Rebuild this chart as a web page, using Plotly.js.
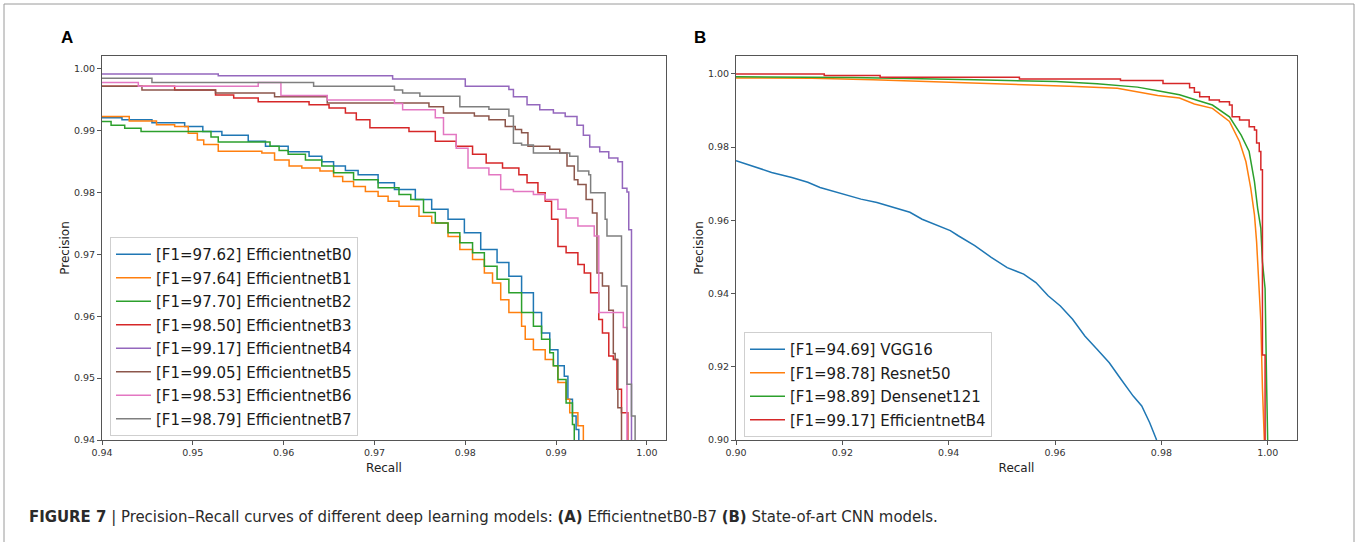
<!DOCTYPE html>
<html><head><meta charset="utf-8">
<script src="https://cdn.plot.ly/plotly-3.0.1.min.js"></script>
<style>html,body{margin:0;padding:0;background:#fff;}</style>
</head><body>
<div id="chart" style="width:1358px;height:542px;"></div>
<script>
// ---------- Panel A data (EfficientnetB0-B7), step levels: precision level starting at recall ----------
const recallB0 = [0.94,0.9422,0.9455,0.9491,0.9511,0.9532,0.9561,0.9580,0.9605,0.9628,0.9642,0.9655,0.9668,0.9682,0.9704,0.9722,0.9745,0.9763,0.9781,0.9799,0.9817,0.9835,0.9848,0.9862,0.9875,0.9884,0.9893,0.9902,0.9909,0.9913,0.9918,0.9922,0.9925];
const precB0   = [0.9921,0.9918,0.9913,0.9907,0.9899,0.9893,0.9883,0.9875,0.9866,0.9859,0.9850,0.9843,0.9836,0.9829,0.9816,0.9805,0.9789,0.9773,0.9757,0.9735,0.9708,0.9687,0.9665,0.9638,0.9606,0.9573,0.9546,0.9520,0.9503,0.9466,0.9439,0.9417,0.9300];

const recallB1 = [0.94,0.9430,0.9460,0.9480,0.9495,0.9505,0.9512,0.9528,0.9576,0.9590,0.9606,0.9620,0.9640,0.9655,0.9665,0.9677,0.9690,0.9704,0.9715,0.9727,0.9749,0.9763,0.9781,0.9794,0.9808,0.9821,0.9830,0.9839,0.9848,0.9862,0.9866,0.9875,0.9888,0.9897,0.9902,0.9911,0.9915,0.9924,0.9930];
const precB1   = [0.9923,0.9916,0.9910,0.9907,0.9896,0.9885,0.9878,0.9867,0.9864,0.9853,0.9843,0.9840,0.9835,0.9826,0.9818,0.9810,0.9802,0.9794,0.9786,0.9778,0.9762,0.9751,0.9729,0.9708,0.9692,0.9670,0.9654,0.9627,0.9606,0.9584,0.9563,0.9546,0.9530,0.9520,0.9493,0.9466,0.9444,0.9423,0.9300];

const recallB2 = [0.94,0.9410,0.9425,0.9443,0.9520,0.9528,0.9585,0.9595,0.9605,0.9624,0.9642,0.9655,0.9677,0.9704,0.9727,0.9740,0.9754,0.9767,0.9781,0.9794,0.9808,0.9821,0.9835,0.9848,0.9862,0.9875,0.9884,0.9893,0.9897,0.9902,0.9911,0.9918,0.9920];
const precB2   = [0.9915,0.9909,0.9904,0.9899,0.9890,0.9882,0.9875,0.9868,0.9862,0.9853,0.9843,0.9832,0.9821,0.9808,0.9797,0.9789,0.9768,0.9751,0.9735,0.9719,0.9703,0.9681,0.9660,0.9638,0.9606,0.9584,0.9563,0.9541,0.9520,0.9498,0.9460,0.9425,0.9300];

const recallB3 = [0.94,0.948,0.9525,0.9545,0.9572,0.9628,0.965,0.9668,0.968,0.9695,0.9738,0.9767,0.979,0.9808,0.9823,0.9841,0.9859,0.9868,0.988,0.9888,0.9895,0.9902,0.9911,0.9924,0.9931,0.9938,0.9947,0.9951,0.9958,0.9963,0.9967,0.9972,0.9979];
const precB3   = [0.9972,0.9966,0.9958,0.9953,0.9947,0.9942,0.9937,0.9929,0.9918,0.9905,0.9899,0.9883,0.9875,0.9862,0.9848,0.9840,0.9829,0.9816,0.9800,0.9786,0.9757,0.9713,0.9703,0.9684,0.9670,0.9638,0.9595,0.9573,0.9536,0.9530,0.9482,0.9444,0.9300];

const recallB4 = [0.94,0.9528,0.9720,0.9800,0.9848,0.9853,0.9868,0.9882,0.9897,0.9910,0.9923,0.9930,0.9937,0.9948,0.9958,0.9968,0.9973,0.9978,0.9980,0.9983];
const precB4   = [0.9992,0.9989,0.9984,0.9972,0.9967,0.9955,0.9942,0.9934,0.9929,0.9923,0.9909,0.9893,0.9874,0.9866,0.9856,0.9850,0.9807,0.9801,0.9740,0.9300];

const recallB5 = [0.94,0.9444,0.9525,0.9590,0.9648,0.9760,0.9776,0.9810,0.9826,0.9844,0.9855,0.9862,0.9869,0.9893,0.9904,0.9912,0.9920,0.9924,0.9933,0.9940,0.9945,0.9951,0.9958,0.9963,0.9965,0.9968,0.9972];
const precB5   = [0.9972,0.9966,0.9961,0.9955,0.9945,0.9939,0.9929,0.9924,0.9918,0.9907,0.9902,0.9897,0.9875,0.9870,0.9864,0.9843,0.9821,0.9813,0.9789,0.9767,0.9670,0.9649,0.9610,0.9540,0.9530,0.9452,0.9300];

const recallB6 = [0.94,0.944,0.9572,0.9597,0.9648,0.9722,0.9731,0.9767,0.9776,0.9790,0.9803,0.9826,0.9839,0.9853,0.9875,0.9888,0.9902,0.9911,0.9924,0.9942,0.9947,0.9974,0.9978];
const precB6   = [0.9978,0.9972,0.9978,0.9957,0.9950,0.9944,0.9934,0.9921,0.9894,0.9872,0.9840,0.9829,0.9805,0.9802,0.9797,0.9789,0.9773,0.9759,0.9746,0.9730,0.9606,0.9582,0.9300];

const recallB7 = [0.94,0.9455,0.9633,0.9722,0.9731,0.9750,0.9794,0.9826,0.9848,0.9853,0.9862,0.9875,0.9915,0.9924,0.9936,0.9938,0.9954,0.9956,0.9972,0.9978,0.9983,0.9987];
const precB7   = [0.9985,0.9978,0.9972,0.9966,0.9961,0.9956,0.9939,0.9935,0.9924,0.9880,0.9877,0.9864,0.9859,0.9835,0.9829,0.9800,0.9757,0.9730,0.9649,0.9490,0.9439,0.9300];

const namesA = ['[F1=97.62] EfficientnetB0','[F1=97.64] EfficientnetB1','[F1=97.70] EfficientnetB2','[F1=98.50] EfficientnetB3','[F1=99.17] EfficientnetB4','[F1=99.05] EfficientnetB5','[F1=98.53] EfficientnetB6','[F1=98.79] EfficientnetB7'];

// ---------- Panel B data (state-of-art CNNs) ----------
const recallVGG = [0.90,0.9036,0.9067,0.9105,0.9135,0.9158,0.9181,0.9204,0.9235,0.9265,0.9296,0.9327,0.9350,0.9373,0.9403,0.9418,0.9449,0.9480,0.9510,0.9541,0.9564,0.9587,0.9610,0.9633,0.9656,0.9679,0.9702,0.9724,0.9747,0.9763,0.9778,0.9791];
const precVGG   = [0.9763,0.9745,0.9731,0.9717,0.9704,0.9690,0.9681,0.9672,0.9658,0.9649,0.9635,0.9622,0.9603,0.9590,0.9572,0.9558,0.9531,0.9499,0.9471,0.9453,0.9430,0.9394,0.9366,0.9330,0.9284,0.9248,0.9211,0.9166,0.9120,0.9093,0.9047,0.9000];

const recallRes = [0.90,0.9143,0.9258,0.9403,0.9526,0.9640,0.9717,0.9755,0.9793,0.9834,0.9862,0.9896,0.9928,0.9947,0.9959,0.9968,0.9975,0.9979,0.9983,0.9987,0.9990,0.9994];
const precRes   = [0.9989,0.9988,0.9984,0.9977,0.9973,0.9966,0.9961,0.9952,0.9941,0.9934,0.9918,0.9906,0.9870,0.9815,0.9760,0.9688,0.9615,0.9542,0.9415,0.9323,0.9142,0.8980];

const recallDense = [0.90,0.9220,0.9449,0.9602,0.9679,0.9755,0.9793,0.9834,0.9870,0.9896,0.9928,0.9950,0.9965,0.9975,0.9981,0.9987,0.9990,0.9995,0.9998,1.0000];
const precDense   = [0.9992,0.9990,0.9984,0.9979,0.9973,0.9964,0.9954,0.9943,0.9927,0.9915,0.9883,0.9833,0.9788,0.9706,0.9633,0.9578,0.9487,0.9414,0.9141,0.8990];

const recallEffB4 = [0.9000,0.9166,0.9271,0.9533,0.9723,0.9803,0.9853,0.9862,0.9872,0.9890,0.9909,0.9928,0.9933,0.9947,0.9965,0.9975,0.9979,0.9984,0.9987,0.9990,0.9995];
const precEffB4   = [1.0000,0.9996,0.9991,0.9986,0.9982,0.9974,0.9962,0.9950,0.9938,0.9929,0.9924,0.9915,0.9883,0.9874,0.9856,0.9847,0.9811,0.9788,0.9738,0.9232,0.8800];

const namesB = ['[F1=94.69] VGG16','[F1=98.78] Resnet50','[F1=98.89] Densenet121','[F1=99.17] EfficientnetB4'];

const tickA = [0.94,0.95,0.96,0.97,0.98,0.99,1.00];
const tickBx = [0.90,0.92,0.94,0.96,0.98,1.00];
const tickBy = [0.90,0.92,0.94,0.96,0.98,1.00];

const colors = ['#1f77b4','#ff7f0e','#2ca02c','#d62728','#9467bd','#8c564b','#e377c2','#7f7f7f'];

// ---------- layout helpers (pixel -> paper) ----------
const W = 1358, H = 542;
const fx = p => p / W;
const fy = p => 1 - p / H;

const seriesA = [[recallB0,precB0],[recallB1,precB1],[recallB2,precB2],[recallB3,precB3],[recallB4,precB4],[recallB5,precB5],[recallB6,precB6],[recallB7,precB7]];
const traces = [];
seriesA.forEach((s,i) => {
  traces.push({x:s[0], y:s[1], type:'scatter', mode:'lines', name:namesA[i],
    line:{color:colors[i], width:1.5, shape:'hv'}, xaxis:'x', yaxis:'y',
    legend:'legend', legendgroup:'a'+i, hoverinfo:'skip'});
});
const seriesB = [[recallVGG,precVGG,'linear'],[recallRes,precRes,'linear'],[recallDense,precDense,'linear'],[recallEffB4,precEffB4,'hv']];
seriesB.forEach((s,i) => {
  traces.push({x:s[0], y:s[1], type:'scatter', mode:'lines', name:namesB[i],
    line:{color:colors[i], width:1.5, shape:s[2]}, xaxis:'x2', yaxis:'y2',
    legend:'legend2', legendgroup:'b'+i, hoverinfo:'skip'});
});

const tickFont = {family:'DejaVu Sans, sans-serif', size:9.5, color:'#333'};
const titleFont = {family:'DejaVu Sans, sans-serif', size:12, color:'#222'};
const axisCommon = {showgrid:false, zeroline:false, showline:true, mirror:true, linecolor:'#555', linewidth:1,
  ticks:'outside', ticklen:4, tickwidth:1, tickcolor:'#555', tickfont:tickFont, tickformat:'.2f', automargin:false};

const legendCommon = {font:{family:'DejaVu Sans, sans-serif', size:15, color:'#1a1a1a'},
  bgcolor:'rgba(255,255,255,0.85)', bordercolor:'#cfcfcf', borderwidth:1,
  xanchor:'left', yanchor:'top', tracegroupgap:1, itemwidth:35};

const layout = {
  width:W, height:H, margin:{l:0,r:0,t:0,b:0}, autosize:false,
  paper_bgcolor:'#fff', plot_bgcolor:'#fff', showlegend:true,
  xaxis: Object.assign({}, axisCommon, {domain:[fx(102), fx(666)], range:[0.94, 1.0021], tickvals:tickA,
    title:{text:'Recall', font:titleFont, standoff:6}}),
  yaxis: Object.assign({}, axisCommon, {domain:[fy(440), fy(56)], range:[0.94, 1.0021], tickvals:tickA,
    title:{text:'Precision', font:titleFont, standoff:1}}),
  xaxis2: Object.assign({}, axisCommon, {domain:[fx(736), fx(1297)], range:[0.90, 1.0055], tickvals:tickBx, anchor:'y2',
    title:{text:'Recall', font:titleFont, standoff:6}}),
  yaxis2: Object.assign({}, axisCommon, {domain:[fy(440), fy(56)], range:[0.90, 1.0049], tickvals:tickBy, anchor:'x2',
    title:{text:'Precision', font:titleFont, standoff:1}}),
  legend: Object.assign({}, legendCommon, {x:fx(110), y:fy(237)}),
  legend2: Object.assign({}, legendCommon, {x:fx(744), y:fy(332)}),
  annotations:[
    {text:'<b>A</b>', xref:'paper', yref:'paper', x:fx(59), y:fy(38), xanchor:'left', yanchor:'middle', showarrow:false,
      font:{family:'Liberation Sans, Arial, sans-serif', size:17, color:'#000'}},
    {text:'<b>B</b>', xref:'paper', yref:'paper', x:fx(692), y:fy(38), xanchor:'left', yanchor:'middle', showarrow:false,
      font:{family:'Liberation Sans, Arial, sans-serif', size:17, color:'#000'}},
    {text:'<b>FIGURE 7</b> | Precision–Recall curves of different deep learning models: <b>(A)</b> EfficientnetB0-B7 <b>(B)</b> State-of-art CNN models.',
      xref:'paper', yref:'paper', x:fx(27), y:fy(516), xanchor:'left', yanchor:'middle', showarrow:false,
      font:{family:'Liberation Sans Narrow, DejaVu Sans Condensed, Arial Narrow, sans-serif', size:16.6, color:'#2a2a2a'}}
  ],
  shapes:[
    {type:'rect', xref:'paper', yref:'paper', x0:fx(4), x1:fx(1354), y0:fy(560), y1:fy(4), line:{color:'#9a9a9a', width:1}, fillcolor:'rgba(0,0,0,0)', layer:'below'}
  ]
};

Plotly.newPlot('chart', traces, layout, {staticPlot:true, displayModeBar:false});
</script>
</body></html>
